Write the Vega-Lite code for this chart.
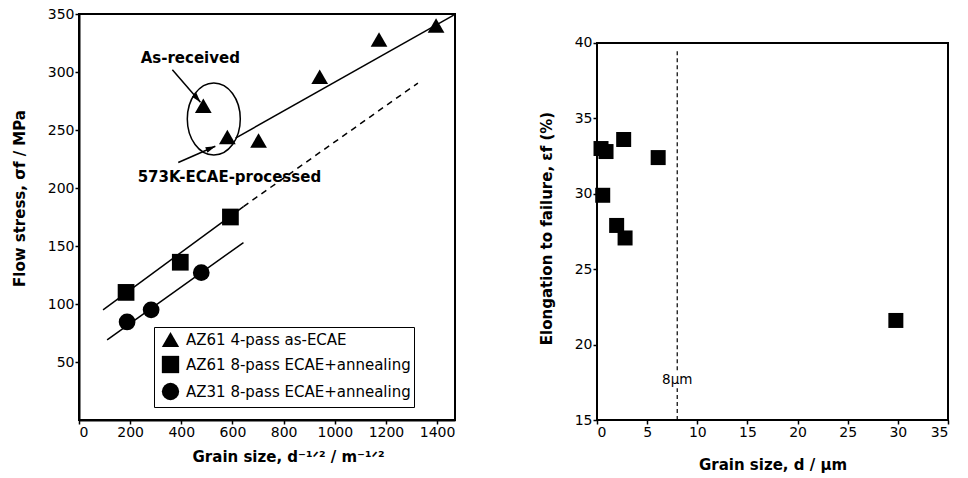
{
  "$schema": "https://vega.github.io/schema/vega-lite/v6.json",
  "background": "white",
  "padding": {"left": 11, "top": 6, "right": 5, "bottom": 2},
  "config": {
    "font": "DejaVu Sans",
    "view": {"stroke": "black", "strokeWidth": 2},
    "axis": {
      "grid": false,
      "zindex": 1,
      "domainColor": "black",
      "domainWidth": 2,
      "tickColor": "black",
      "tickSize": 4,
      "tickWidth": 1.5,
      "labelColor": "black",
      "labelFont": "DejaVu Sans",
      "labelFontSize": 14,
      "labelPadding": 1,
      "titleColor": "black",
      "titleFont": "DejaVu Sans",
      "titleFontSize": 15,
      "titleFontWeight": "bold"
    }
  },
  "spacing": 81,
  "hconcat": [
    {
      "width": 376,
      "height": 406,
      "layer": [
        {
          "data": {"values": [
            {"seg": "AZ61-4", "x": 612, "y": 243},
            {"seg": "AZ61-4", "x": 1465, "y": 349},
            {"seg": "AZ61-8", "x": 94, "y": 95},
            {"seg": "AZ61-8", "x": 643, "y": 184},
            {"seg": "AZ31", "x": 110, "y": 69},
            {"seg": "AZ31", "x": 643, "y": 153}
          ]},
          "mark": {"type": "line", "color": "black", "strokeWidth": 1.5},
          "encoding": {
            "x": {"field": "x", "type": "quantitative", "scale": {"domain": [0, 1470], "nice": false},
              "axis": {"values": [0, 200, 400, 600, 800, 1000, 1200, 1400], "format": "d", "title": "Grain size, d⁻¹ᐟ² / m⁻¹ᐟ²", "titleX": 209, "titlePadding": 10}},
            "y": {"field": "y", "type": "quantitative", "scale": {"domain": [0, 350], "nice": false},
              "axis": {"values": [50, 100, 150, 200, 250, 300, 350], "title": "Flow stress, σf / MPa", "titlePadding": 20, "titleY": 184}},
            "detail": {"field": "seg"}
          }
        },
        {
          "data": {"values": [
            {"x": 643, "y": 184},
            {"x": 1325, "y": 290.5}
          ]},
          "mark": {"type": "line", "color": "black", "strokeWidth": 1.5, "strokeDash": [6, 5]},
          "encoding": {
            "x": {"field": "x", "type": "quantitative"},
            "y": {"field": "y", "type": "quantitative"}
          }
        },
        {
          "data": {"values": [{"x": 527, "y": 259.5}]},
          "mark": {"type": "point", "shape": "M 0 -1.36 A 1 1.36 0 1 1 0 1.36 A 1 1.36 0 1 1 0 -1.36 Z", "size": 2809, "filled": false, "stroke": "black", "strokeWidth": 1.5, "opacity": 1},
          "encoding": {
            "x": {"field": "x", "type": "quantitative"},
            "y": {"field": "y", "type": "quantitative"}
          }
        },
        {
          "data": {"values": [
            {"arrow": "As-received", "x": 365, "y": 302, "x2": 475, "y2": 274},
            {"arrow": "573K", "x": 388, "y": 222, "x2": 533, "y2": 236}
          ]},
          "mark": {"type": "rule", "color": "black", "strokeWidth": 1.5},
          "encoding": {
            "x": {"field": "x", "type": "quantitative"},
            "y": {"field": "y", "type": "quantitative"},
            "x2": {"field": "x2"},
            "y2": {"field": "y2"}
          }
        },
        {
          "data": {"values": [{"x": 475, "y": 274}]},
          "mark": {"type": "point", "shape": "M 0 0 L -0.45 1.5 L 0.45 1.5 Z", "size": 170, "filled": true, "color": "black", "opacity": 1, "angle": 139},
          "encoding": {
            "x": {"field": "x", "type": "quantitative"},
            "y": {"field": "y", "type": "quantitative"}
          }
        },
        {
          "data": {"values": [{"x": 533, "y": 236}]},
          "mark": {"type": "point", "shape": "M 0 0 L -0.45 1.5 L 0.45 1.5 Z", "size": 170, "filled": true, "color": "black", "opacity": 1, "angle": 67},
          "encoding": {
            "x": {"field": "x", "type": "quantitative"},
            "y": {"field": "y", "type": "quantitative"}
          }
        },
        {
          "data": {"values": [
            {"label": "As-received", "x": 435, "y": 312},
            {"label": "573K-ECAE-processed", "x": 588, "y": 209.5}
          ]},
          "mark": {"type": "text", "font": "DejaVu Sans", "fontSize": 15, "fontWeight": "bold", "color": "black", "baseline": "middle", "align": "center"},
          "encoding": {
            "x": {"field": "x", "type": "quantitative"},
            "y": {"field": "y", "type": "quantitative"},
            "text": {"field": "label"}
          }
        },
        {
          "data": {"values": [
            {"series": "AZ61 4-pass as-ECAE", "x": 486, "y": 271},
            {"series": "AZ61 4-pass as-ECAE", "x": 580, "y": 244},
            {"series": "AZ61 4-pass as-ECAE", "x": 702, "y": 241},
            {"series": "AZ61 4-pass as-ECAE", "x": 941, "y": 296},
            {"series": "AZ61 4-pass as-ECAE", "x": 1173, "y": 328},
            {"series": "AZ61 4-pass as-ECAE", "x": 1396, "y": 340},
            {"series": "AZ61 8-pass ECAE+annealing", "x": 184, "y": 110},
            {"series": "AZ61 8-pass ECAE+annealing", "x": 396, "y": 136},
            {"series": "AZ61 8-pass ECAE+annealing", "x": 592, "y": 175},
            {"series": "AZ31 8-pass ECAE+annealing", "x": 188, "y": 84.5},
            {"series": "AZ31 8-pass ECAE+annealing", "x": 282, "y": 95},
            {"series": "AZ31 8-pass ECAE+annealing", "x": 478, "y": 127}
          ]},
          "mark": {"type": "point", "filled": true, "opacity": 1, "size": 280},
          "encoding": {
            "x": {"field": "x", "type": "quantitative"},
            "y": {"field": "y", "type": "quantitative"},
            "shape": {"field": "series", "type": "nominal",
              "scale": {"domain": ["AZ61 4-pass as-ECAE", "AZ61 8-pass ECAE+annealing", "AZ31 8-pass ECAE+annealing"], "range": ["triangle-up", "square", "circle"]},
              "legend": {"title": null, "orient": "none", "legendX": 75, "legendY": 313, "strokeColor": "black", "fillColor": "white", "padding": 3, "symbolSize": 300, "symbolFillColor": "black", "symbolStrokeColor": "black", "symbolOffset": 4, "labelOffset": 6, "labelFontSize": 15, "labelColor": "black", "labelFont": "DejaVu Sans", "labelLimit": 400, "rowPadding": 2}},
            "color": {"value": "black"}
          }
        }
      ]
    },
    {
      "width": 351,
      "height": 406,
      "view": {"stroke": null},
      "layer": [
        {
          "data": {"values": [{"x": 0, "x2": 35, "y": 15, "y2": 40}]},
          "mark": {"type": "rect", "fill": null, "stroke": "black", "strokeWidth": 2},
          "encoding": {
            "x": {"field": "x", "type": "quantitative", "scale": {"domain": [0, 35], "nice": false},
              "axis": {"values": [0, 5, 10, 15, 20, 25, 30, 35], "domain": false, "title": "Grain size, d / µm", "titlePadding": 18}},
            "y": {"field": "y", "type": "quantitative", "scale": {"domain": [15, 41.92], "nice": false},
              "axis": {"values": [15, 20, 25, 30, 35, 40], "domain": false, "title": "Elongation to failure, εf (%)", "titlePadding": 20, "titleY": 214}},
            "x2": {"field": "x2"},
            "y2": {"field": "y2"}
          }
        },
        {
          "data": {"values": [
            {"x": 8, "y": 15, "y2": 17.1},
            {"x": 8, "y": 18.3, "y2": 39.6}
          ]},
          "mark": {"type": "rule", "color": "black", "strokeWidth": 1.2, "strokeDash": [4, 3]},
          "encoding": {
            "x": {"field": "x", "type": "quantitative"},
            "y": {"field": "y", "type": "quantitative"},
            "y2": {"field": "y2"}
          }
        },
        {
          "data": {"values": [{"label": "8µm", "x": 8, "y": 17.65}]},
          "mark": {"type": "text", "font": "DejaVu Sans", "fontSize": 13.5, "color": "black", "baseline": "middle", "align": "center"},
          "encoding": {
            "x": {"field": "x", "type": "quantitative"},
            "y": {"field": "y", "type": "quantitative"},
            "text": {"field": "label"}
          }
        },
        {
          "data": {"values": [
            {"x": 0.4, "y": 33.0},
            {"x": 0.9, "y": 32.8},
            {"x": 0.57, "y": 29.9},
            {"x": 2.66, "y": 33.6},
            {"x": 6.1, "y": 32.4},
            {"x": 1.96, "y": 27.9},
            {"x": 2.8, "y": 27.07},
            {"x": 29.8, "y": 21.6}
          ]},
          "mark": {"type": "point", "shape": "square", "filled": true, "color": "black", "opacity": 1, "size": 225},
          "encoding": {
            "x": {"field": "x", "type": "quantitative"},
            "y": {"field": "y", "type": "quantitative"}
          }
        }
      ]
    }
  ]
}
